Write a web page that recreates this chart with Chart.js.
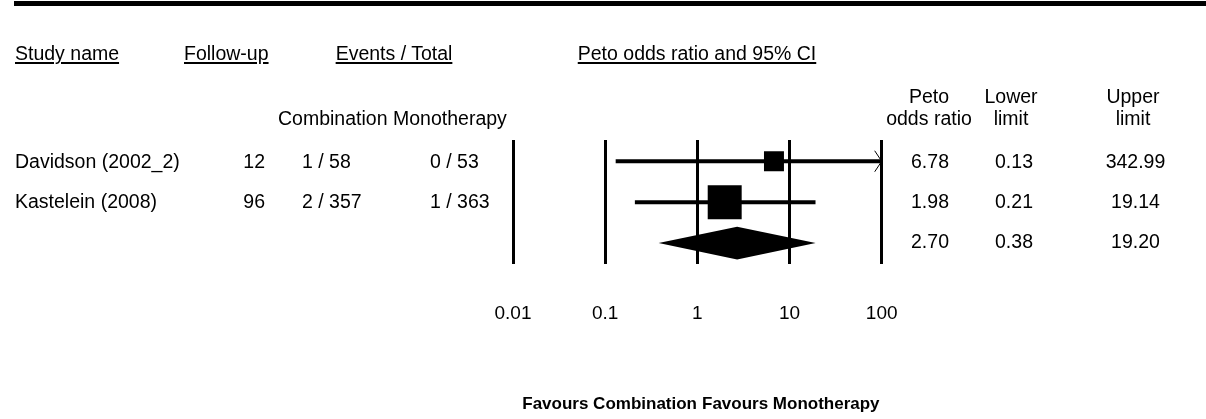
<!DOCTYPE html>
<html>
<head>
<meta charset="utf-8">
<script src="https://cdn.jsdelivr.net/npm/chart.js@4/dist/chart.umd.min.js"></script>
<style>
    html, body { margin: 0; padding: 0; background: #fff; }
    #page { position: relative; width: 1206px; height: 419px; overflow: hidden; font-family: "Liberation Sans", Arial, sans-serif; color: #000; }
    #topRule { position: absolute; left: 14px; right: 0; top: 1px; height: 5px; background: #000; }
    #forest { position: absolute; left: 0; top: 0; }
    .lbl { position: absolute; white-space: nowrap; font-size: 19.5px; line-height: 19.5px; }
    .u { text-decoration: underline; text-decoration-thickness: 2px; text-underline-offset: 2px; }
    .b { font-weight: bold; font-size: 17px; line-height: 17px; }
</style>
</head>
<body>
<div id="page">
    <div id="topRule"></div>
    <canvas id="forest" width="1206" height="419"></canvas>
</div>
<script>
// Dados do forest plot
const studies = ['Davidson (2002_2)', 'Kastelein (2008)'];
const followUp = [12, 96];
const eventsCombination = ['1 / 58', '2 / 357'];
const eventsMonotherapy = ['0 / 53', '1 / 363'];
const oddsRatio = [6.78, 1.98];
const lowerLimit = [0.13, 0.21];
const upperLimit = [342.99, 19.14];
const weights = [25.7, 74.3];

const pooledOddsRatio = 2.70;
const pooledLower = 0.38;
const pooledUpper = 19.20;

const tickValues = [0.01, 0.1, 1, 10, 100];
const tickLabels = ['0.01', '0.1', '1', '10', '100'];

const page = document.getElementById('page');

// texto posicionado pela linha de base
function addLabel(text, x, baseline, align, cls) {
    const el = document.createElement('div');
    el.className = 'lbl' + (cls ? ' ' + cls : '');
    el.textContent = text;
    const size = cls === 'b' ? 17 : 19.5;
    el.style.top = (baseline - size * 0.8465) + 'px';
    if (align === 'left') {
        el.style.left = x + 'px';
    } else if (align === 'right') {
        el.style.right = (1206 - x) + 'px';
    } else {
        el.style.left = x + 'px';
        el.style.transform = 'translateX(-50%)';
    }
    page.appendChild(el);
}

// cabeçalhos
addLabel('Study name', 15, 61, 'left', 'u');
addLabel('Follow-up', 184, 61, 'left', 'u');
addLabel('Events / Total', 394, 61, 'center', 'u');
addLabel('Peto odds ratio and 95% CI', 697, 61, 'center', 'u');
addLabel('Combination', 278, 126, 'left');
addLabel('Monotherapy', 393, 126, 'left');
addLabel('Peto', 929, 104, 'center');
addLabel('odds ratio', 929, 126, 'center');
addLabel('Lower', 1011, 104, 'center');
addLabel('limit', 1011, 126, 'center');
addLabel('Upper', 1133, 104, 'center');
addLabel('limit', 1133, 126, 'center');

// linhas dos estudos
const rowBaselines = [168.5, 209];
studies.forEach((name, i) => {
    const yb = rowBaselines[i];
    addLabel(name, 15, yb, 'left');
    addLabel(String(followUp[i]), 265, yb, 'right');
    addLabel(eventsCombination[i], 302, yb, 'left');
    addLabel(eventsMonotherapy[i], 430, yb, 'left');
    addLabel(oddsRatio[i].toFixed(2), 930, yb, 'center');
    addLabel(lowerLimit[i].toFixed(2), 1014, yb, 'center');
    addLabel(upperLimit[i].toFixed(2), 1135.5, yb, 'center');
});
addLabel(pooledOddsRatio.toFixed(2), 930, 249, 'center');
addLabel(pooledLower.toFixed(2), 1014, 249, 'center');
addLabel(pooledUpper.toFixed(2), 1135.5, 249, 'center');

addLabel('Favours Combination', 697, 409, 'right', 'b');
addLabel('Favours Monotherapy', 702, 409, 'left', 'b');

// tamanho do quadrado proporcional ao peso
const BOX_SCALE = 39.4;
const boxRadius = weights.map(w => BOX_SCALE * Math.sqrt(w / 100) / Math.SQRT2);
const pooledRow = studies.length;
const DIAMOND_HALF = 0.4;

// losango do efeito combinado + setas de IC truncado
const forestExtras = {
    id: 'forestExtras',
    afterDatasetsDraw(chart) {
        const { ctx, scales: { x, y } } = chart;
        ctx.save();
        ctx.fillStyle = '#000';
        const yc = y.getPixelForValue(pooledRow);
        const yt = y.getPixelForValue(pooledRow - DIAMOND_HALF);
        const yb = y.getPixelForValue(pooledRow + DIAMOND_HALF);
        ctx.beginPath();
        ctx.moveTo(x.getPixelForValue(pooledLower), yc);
        ctx.lineTo(x.getPixelForValue(pooledOddsRatio), yt);
        ctx.lineTo(x.getPixelForValue(pooledUpper), yc);
        ctx.lineTo(x.getPixelForValue(pooledOddsRatio), yb);
        ctx.closePath();
        ctx.fill();

        ctx.strokeStyle = '#000';
        ctx.lineWidth = 1;
        upperLimit.forEach((u, i) => {
            if (u <= x.max) return;
            const px = x.getPixelForValue(x.max);
            const py = y.getPixelForValue(i);
            ctx.beginPath();
            ctx.moveTo(px - 7, py - 10.5);
            ctx.lineTo(px, py);
            ctx.lineTo(px - 7, py + 10.5);
            ctx.stroke();
        });
        ctx.restore();
    }
};

const ciDatasets = studies.map((name, i) => ({
    type: 'line',
    label: name,
    data: [{ x: lowerLimit[i], y: i }, { x: upperLimit[i], y: i }],
    borderColor: '#000',
    borderWidth: 4,
    pointRadius: 0,
    fill: false
}));

const boxDataset = {
    type: 'scatter',
    label: 'Peto odds ratio',
    data: oddsRatio.map((v, i) => ({ x: v, y: i })),
    pointStyle: 'rect',
    pointRadius: boxRadius,
    pointHoverRadius: boxRadius,
    backgroundColor: '#000',
    borderWidth: 0
};

new Chart(document.getElementById('forest').getContext('2d'), {
    type: 'scatter',
    data: { datasets: [boxDataset, ...ciDatasets] },
    options: {
        responsive: false,
        animation: false,
        events: [],
        layout: { padding: { left: 513, right: 324.3, top: 140, bottom: 56.5 } },
        plugins: {
            legend: { display: false },
            tooltip: { enabled: false },
            title: { display: false }
        },
        scales: {
            x: {
                type: 'logarithmic',
                position: 'bottom',
                min: tickValues[0],
                max: tickValues[tickValues.length - 1],
                afterBuildTicks: axis => { axis.ticks = tickValues.map(v => ({ value: v })); },
                ticks: {
                    autoSkip: false,
                    maxRotation: 0,
                    padding: 37.7,
                    color: '#000',
                    font: { family: '"Liberation Sans", Arial, sans-serif', size: 19 },
                    callback: value => tickLabels[tickValues.indexOf(value)]
                },
                grid: { color: '#000', lineWidth: 3, drawTicks: false },
                border: { display: false }
            },
            y: {
                type: 'linear',
                display: false,
                reverse: true,
                min: -0.52,
                max: pooledRow + 0.52
            }
        }
    },
    plugins: [forestExtras]
});
</script>
</body>
</html>
